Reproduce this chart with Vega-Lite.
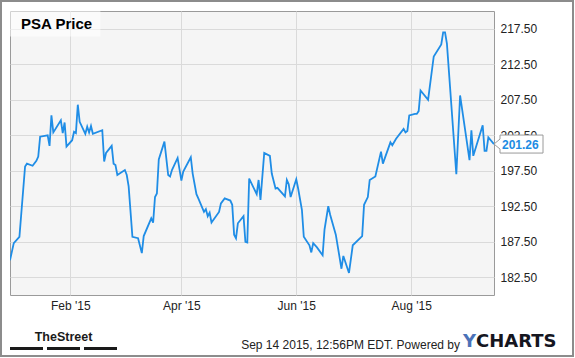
{
  "$schema": "https://vega.github.io/schema/vega-lite/v6.json",
  "width": 484,
  "height": 284,
  "autosize": {"type": "none"},
  "padding": {"left": 10, "top": 11, "right": 81, "bottom": 63},
  "background": "white",
  "config": {
    "view": {"stroke": "#9a9a9a", "strokeWidth": 1, "fill": "#f5f5f5"},
    "axis": {
      "labelFont": "Liberation Sans",
      "labelFontSize": 12,
      "labelColor": "#222222",
      "gridColor": "#dadada",
      "gridWidth": 1,
      "gridOpacity": 1,
      "domain": false,
      "ticks": false,
      "tickSize": 0,
      "zindex": 0
    }
  },
  "data": {
    "format": {"parse": {"date": "utc:'%Y-%m-%d'"}},
    "values": [
      {"date": "2014-12-31", "price": 184.9},
      {"date": "2015-01-02", "price": 187.3},
      {"date": "2015-01-05", "price": 188.2},
      {"date": "2015-01-08", "price": 198.1},
      {"date": "2015-01-09", "price": 198.5},
      {"date": "2015-01-12", "price": 198.2},
      {"date": "2015-01-14", "price": 198.9},
      {"date": "2015-01-15", "price": 199.5},
      {"date": "2015-01-16", "price": 202.3},
      {"date": "2015-01-20", "price": 202.5},
      {"date": "2015-01-21", "price": 201.0},
      {"date": "2015-01-22", "price": 205.3},
      {"date": "2015-01-23", "price": 202.9},
      {"date": "2015-01-27", "price": 204.6},
      {"date": "2015-01-28", "price": 202.8},
      {"date": "2015-01-29", "price": 204.3},
      {"date": "2015-01-30", "price": 200.9},
      {"date": "2015-02-02", "price": 201.8},
      {"date": "2015-02-03", "price": 203.0},
      {"date": "2015-02-04", "price": 202.8},
      {"date": "2015-02-05", "price": 206.8},
      {"date": "2015-02-06", "price": 204.4},
      {"date": "2015-02-09", "price": 202.7},
      {"date": "2015-02-10", "price": 203.7},
      {"date": "2015-02-11", "price": 202.9},
      {"date": "2015-02-12", "price": 203.8},
      {"date": "2015-02-13", "price": 202.7},
      {"date": "2015-02-18", "price": 203.2},
      {"date": "2015-02-19", "price": 198.8},
      {"date": "2015-02-20", "price": 200.0},
      {"date": "2015-02-23", "price": 201.0},
      {"date": "2015-02-24", "price": 198.5},
      {"date": "2015-02-25", "price": 198.3},
      {"date": "2015-02-26", "price": 196.9},
      {"date": "2015-03-02", "price": 197.6},
      {"date": "2015-03-03", "price": 196.9},
      {"date": "2015-03-04", "price": 195.3},
      {"date": "2015-03-06", "price": 188.2},
      {"date": "2015-03-09", "price": 188.0},
      {"date": "2015-03-11", "price": 185.9},
      {"date": "2015-03-12", "price": 188.3},
      {"date": "2015-03-16", "price": 190.8},
      {"date": "2015-03-17", "price": 190.2},
      {"date": "2015-03-18", "price": 193.8},
      {"date": "2015-03-19", "price": 194.3},
      {"date": "2015-03-20", "price": 199.1},
      {"date": "2015-03-23", "price": 201.6},
      {"date": "2015-03-25", "price": 196.9},
      {"date": "2015-03-26", "price": 196.7},
      {"date": "2015-03-27", "price": 197.6},
      {"date": "2015-03-30", "price": 199.3},
      {"date": "2015-04-01", "price": 196.1},
      {"date": "2015-04-02", "price": 197.4},
      {"date": "2015-04-06", "price": 199.4},
      {"date": "2015-04-07", "price": 197.1},
      {"date": "2015-04-09", "price": 194.2},
      {"date": "2015-04-10", "price": 193.6},
      {"date": "2015-04-13", "price": 191.7},
      {"date": "2015-04-14", "price": 192.1},
      {"date": "2015-04-15", "price": 191.1},
      {"date": "2015-04-16", "price": 191.6},
      {"date": "2015-04-17", "price": 190.2},
      {"date": "2015-04-21", "price": 191.7},
      {"date": "2015-04-22", "price": 192.9},
      {"date": "2015-04-24", "price": 193.6},
      {"date": "2015-04-27", "price": 193.3},
      {"date": "2015-04-28", "price": 192.7},
      {"date": "2015-04-29", "price": 188.5},
      {"date": "2015-04-30", "price": 188.0},
      {"date": "2015-05-01", "price": 190.1},
      {"date": "2015-05-04", "price": 191.1},
      {"date": "2015-05-05", "price": 187.5},
      {"date": "2015-05-06", "price": 187.4},
      {"date": "2015-05-07", "price": 196.4},
      {"date": "2015-05-11", "price": 194.2},
      {"date": "2015-05-12", "price": 196.2},
      {"date": "2015-05-13", "price": 193.4},
      {"date": "2015-05-15", "price": 200.0},
      {"date": "2015-05-18", "price": 199.6},
      {"date": "2015-05-19", "price": 197.1},
      {"date": "2015-05-21", "price": 195.0},
      {"date": "2015-05-22", "price": 195.1},
      {"date": "2015-05-26", "price": 193.9},
      {"date": "2015-05-27", "price": 196.2},
      {"date": "2015-05-28", "price": 195.6},
      {"date": "2015-05-29", "price": 193.8},
      {"date": "2015-06-01", "price": 196.3},
      {"date": "2015-06-02", "price": 195.0},
      {"date": "2015-06-04", "price": 192.0},
      {"date": "2015-06-05", "price": 188.2},
      {"date": "2015-06-08", "price": 187.0},
      {"date": "2015-06-09", "price": 186.0},
      {"date": "2015-06-10", "price": 187.3},
      {"date": "2015-06-12", "price": 186.7},
      {"date": "2015-06-15", "price": 185.6},
      {"date": "2015-06-16", "price": 189.2},
      {"date": "2015-06-18", "price": 192.5},
      {"date": "2015-06-19", "price": 191.3},
      {"date": "2015-06-22", "price": 188.5},
      {"date": "2015-06-25", "price": 183.7},
      {"date": "2015-06-26", "price": 185.5},
      {"date": "2015-06-29", "price": 183.1},
      {"date": "2015-07-01", "price": 187.0},
      {"date": "2015-07-06", "price": 188.3},
      {"date": "2015-07-07", "price": 192.7},
      {"date": "2015-07-09", "price": 193.8},
      {"date": "2015-07-10", "price": 196.2},
      {"date": "2015-07-13", "price": 196.7},
      {"date": "2015-07-16", "price": 200.2},
      {"date": "2015-07-17", "price": 198.5},
      {"date": "2015-07-21", "price": 201.5},
      {"date": "2015-07-22", "price": 201.1},
      {"date": "2015-07-24", "price": 202.0},
      {"date": "2015-07-28", "price": 203.4},
      {"date": "2015-07-29", "price": 202.9},
      {"date": "2015-07-30", "price": 203.1},
      {"date": "2015-07-31", "price": 205.3},
      {"date": "2015-08-03", "price": 205.5},
      {"date": "2015-08-04", "price": 205.5},
      {"date": "2015-08-05", "price": 205.9},
      {"date": "2015-08-06", "price": 208.8},
      {"date": "2015-08-10", "price": 207.5},
      {"date": "2015-08-13", "price": 213.6},
      {"date": "2015-08-17", "price": 215.3},
      {"date": "2015-08-18", "price": 217.0},
      {"date": "2015-08-19", "price": 217.0},
      {"date": "2015-08-20", "price": 215.4},
      {"date": "2015-08-25", "price": 197.0},
      {"date": "2015-08-27", "price": 208.1},
      {"date": "2015-09-01", "price": 199.0},
      {"date": "2015-09-02", "price": 203.2},
      {"date": "2015-09-03", "price": 199.6},
      {"date": "2015-09-08", "price": 203.9},
      {"date": "2015-09-09", "price": 200.3},
      {"date": "2015-09-10", "price": 200.3},
      {"date": "2015-09-11", "price": 202.2},
      {"date": "2015-09-14", "price": 201.26}
    ]
  },
  "layer": [
    {
      "mark": {"type": "line", "color": "#1f8de6", "strokeWidth": 1.8, "clip": true},
      "encoding": {
        "x": {
          "field": "date",
          "type": "temporal",
          "scale": {
            "type": "utc",
            "domain": [
              {"year": 2014, "month": 12, "date": 31, "utc": true},
              {"year": 2015, "month": 9, "date": 14, "utc": true}
            ],
            "nice": false
          },
          "axis": {
            "title": null,
            "orient": "bottom",
            "grid": true,
            "format": "%b '%y",
            "labelPadding": 5,
            "labelBaseline": "top",
            "values": [
              {"year": 2015, "month": 2, "date": 1, "utc": true},
              {"year": 2015, "month": 4, "date": 1, "utc": true},
              {"year": 2015, "month": 6, "date": 1, "utc": true},
              {"year": 2015, "month": 8, "date": 1, "utc": true}
            ]
          }
        },
        "y": {
          "field": "price",
          "type": "quantitative",
          "scale": {"domain": [180, 220], "nice": false, "zero": false},
          "axis": {
            "title": null,
            "orient": "right",
            "grid": true,
            "format": ".2f",
            "labelPadding": 6,
            "values": [182.5, 187.5, 192.5, 197.5, 202.5, 207.5, 212.5, 217.5]
          }
        }
      }
    },
    {
      "data": {"values": [{}]},
      "mark": {"type": "rect", "fill": "#ffffff", "opacity": 0.55},
      "encoding": {
        "x": {"datum": {"year": 2014, "month": 12, "date": 31, "utc": true}, "type": "temporal"},
        "x2": {"datum": {"year": 2015, "month": 2, "date": 17, "utc": true}},
        "y": {"datum": 220, "type": "quantitative"},
        "y2": {"datum": 216.4}
      }
    },
    {
      "data": {"values": [{}]},
      "mark": {
        "type": "text",
        "text": "PSA Price",
        "align": "left",
        "baseline": "alphabetic",
        "dx": 11,
        "dy": 18,
        "font": "Liberation Sans",
        "fontSize": 15,
        "fontWeight": "bold",
        "color": "#000000"
      },
      "encoding": {
        "x": {"datum": {"year": 2014, "month": 12, "date": 31, "utc": true}, "type": "temporal"},
        "y": {"datum": 220, "type": "quantitative"}
      }
    },
    {
      "transform": [
        {"joinaggregate": [{"op": "max", "field": "date", "as": "lastdate"}]},
        {"filter": "time(datum.date) == time(datum.lastdate)"}
      ],
      "mark": {
        "type": "point",
        "shape": "M0,0 L6,-5 L6,-9 L49,-9 L49,9 L6,9 L6,5 Z",
        "size": 4,
        "filled": true,
        "fill": "#ffffff",
        "stroke": "#9a9a9a",
        "strokeWidth": 1,
        "opacity": 1
      },
      "encoding": {
        "x": {"field": "date", "type": "temporal"},
        "y": {"field": "price", "type": "quantitative"}
      }
    },
    {
      "transform": [
        {"joinaggregate": [{"op": "max", "field": "date", "as": "lastdate"}]},
        {"filter": "time(datum.date) == time(datum.lastdate)"}
      ],
      "mark": {
        "type": "text",
        "align": "left",
        "baseline": "middle",
        "dx": 8,
        "dy": 1,
        "font": "Liberation Sans",
        "fontSize": 12,
        "fontWeight": "bold",
        "color": "#1c8ce3"
      },
      "encoding": {
        "x": {"field": "date", "type": "temporal"},
        "y": {"field": "price", "type": "quantitative"},
        "text": {"field": "price", "type": "quantitative", "format": ".2f"}
      }
    },
    {
      "data": {"values": [{}]},
      "mark": {
        "type": "text",
        "text": "TheStreet",
        "align": "center",
        "baseline": "alphabetic",
        "dx": 53.5,
        "dy": 46,
        "font": "Liberation Sans",
        "fontSize": 12.5,
        "fontWeight": "bold",
        "color": "#1a1a1a"
      },
      "encoding": {
        "x": {"datum": {"year": 2014, "month": 12, "date": 31, "utc": true}, "type": "temporal"},
        "y": {"datum": 180, "type": "quantitative"}
      }
    },
    {
      "data": {"values": [{}]},
      "mark": {
        "type": "rule",
        "color": "#1a1a1a",
        "strokeWidth": 3,
        "strokeDash": [33, 4],
        "yOffset": 53.5,
        "y2Offset": 53.5,
        "x2Offset": 107
      },
      "encoding": {
        "x": {"datum": {"year": 2014, "month": 12, "date": 31, "utc": true}, "type": "temporal"},
        "x2": {"datum": {"year": 2014, "month": 12, "date": 31, "utc": true}},
        "y": {"datum": 180, "type": "quantitative"}
      }
    },
    {
      "data": {"values": [{}]},
      "mark": {
        "type": "text",
        "text": "Sep 14 2015, 12:56PM EDT.  Powered by",
        "align": "right",
        "baseline": "alphabetic",
        "dx": -34,
        "dy": 54,
        "font": "Liberation Sans",
        "fontSize": 12,
        "color": "#222222"
      },
      "encoding": {
        "x": {"datum": {"year": 2015, "month": 9, "date": 14, "utc": true}, "type": "temporal"},
        "y": {"datum": 180, "type": "quantitative"}
      }
    },
    {
      "data": {"values": [{}]},
      "mark": {
        "type": "text",
        "text": "Y",
        "align": "left",
        "baseline": "alphabetic",
        "dx": -31,
        "dy": 52,
        "font": "DejaVu Sans",
        "fontSize": 18,
        "fontWeight": "bold",
        "color": "#4b72b8"
      },
      "encoding": {
        "x": {"datum": {"year": 2015, "month": 9, "date": 14, "utc": true}, "type": "temporal"},
        "y": {"datum": 180, "type": "quantitative"}
      }
    },
    {
      "data": {"values": [{}]},
      "mark": {
        "type": "text",
        "text": "CHARTS",
        "align": "left",
        "baseline": "alphabetic",
        "dx": -18,
        "dy": 52,
        "font": "DejaVu Sans",
        "fontSize": 18,
        "fontWeight": "bold",
        "color": "#15161f"
      },
      "encoding": {
        "x": {"datum": {"year": 2015, "month": 9, "date": 14, "utc": true}, "type": "temporal"},
        "y": {"datum": 180, "type": "quantitative"}
      }
    },
    {
      "data": {"values": [{}]},
      "mark": {
        "type": "rect",
        "fillOpacity": 0,
        "stroke": "#8c8c8c",
        "strokeWidth": 2,
        "xOffset": -9,
        "x2Offset": 79,
        "yOffset": -10,
        "y2Offset": 61
      },
      "encoding": {
        "x": {"datum": {"year": 2014, "month": 12, "date": 31, "utc": true}, "type": "temporal"},
        "x2": {"datum": {"year": 2015, "month": 9, "date": 14, "utc": true}},
        "y": {"datum": 220, "type": "quantitative"},
        "y2": {"datum": 180}
      }
    }
  ]
}
